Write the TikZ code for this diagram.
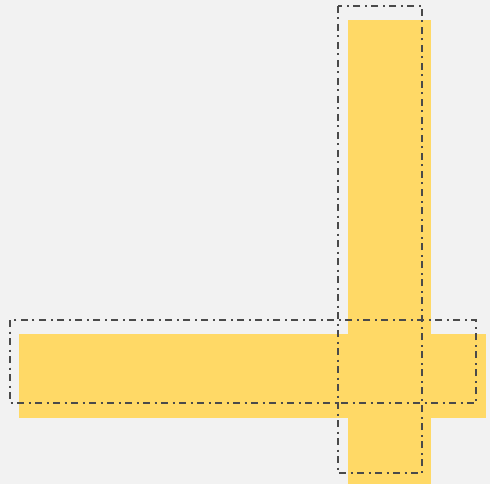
\documentclass[tikz,border=0pt]{standalone}
\definecolor{bg}{HTML}{F2F2F2}
\definecolor{bar}{HTML}{FFD966}
\definecolor{outline}{HTML}{4A4A4A}
\tikzset{
  barfill/.style={fill=bar, draw=none},
  dashframe/.style={draw=outline, line width=1.8pt, dash pattern=on 7pt off 4.5pt on 2pt off 4.5pt}
}
\begin{document}
\begin{tikzpicture}[x=1pt,y=-1pt]
\fill[bg] (0,0) rectangle (490,484);
\useasboundingbox (0,0) rectangle (490,484);
% yellow bars
\path[barfill] (347.5,20) rectangle (431,484);
\path[barfill] (19,334) rectangle (486,417.5);
% dash-dot frames
\draw[dashframe] (338,6) rectangle (422,473);
\draw[dashframe] (10,320) rectangle (476,403);
\end{tikzpicture}
\end{document}
